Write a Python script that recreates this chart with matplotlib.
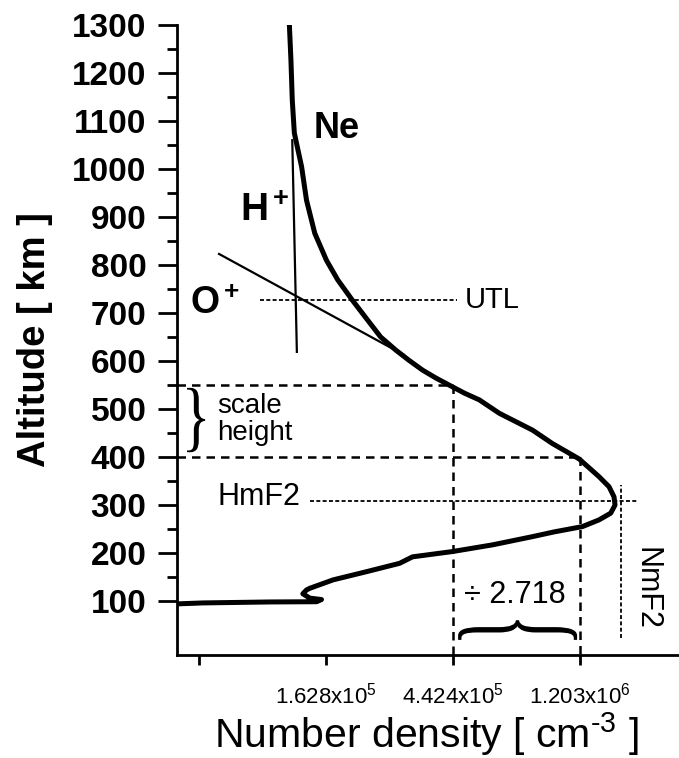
import numpy as np
import matplotlib
matplotlib.use("Agg")
import matplotlib.pyplot as plt
from matplotlib.textpath import TextPath
from matplotlib.patches import PathPatch
from matplotlib.font_manager import FontProperties
from matplotlib.transforms import Affine2D, blended_transform_factory
from matplotlib.ticker import FixedLocator, NullLocator

plt.rcParams['font.family'] = ['Liberation Sans', 'DejaVu Sans']
plt.rcParams['mathtext.fontset'] = 'custom'
plt.rcParams['mathtext.rm'] = 'Liberation Sans'
plt.rcParams['mathtext.bf'] = 'Liberation Sans:bold'
plt.rcParams['mathtext.it'] = 'Liberation Sans:italic'

# ---------------- data ----------------
# electron density profile Ne (altitude km, density cm^-3)
ne_alt = [1300, 1227, 1144, 1075, 1040, 1005, 935, 866, 810, 769, 727, 685,
          650, 623, 602, 581, 565, 550, 533, 519, 491, 456, 428, 396,
          359, 338, 317, 300, 283, 269, 255, 244, 234, 217, 203, 192, 178.5,
          161, 144, 126.5, 123, 115, 106, 103, 98.5, 98, 96, 94]
ne_density = [121900, 123400, 124700, 126750, 130400, 134200, 139500, 148900,
              163200, 178400, 200000, 225900, 250200, 281500, 311800, 348000,
              385400, 428500, 484100, 544200, 637300, 827300, 968000, 1194200,
              1397200, 1512000, 1572200, 1584800, 1531900, 1397200,
              1225700, 981600, 825700, 604400, 440200, 321600, 290400, 223500,
              172000, 143200, 139500, 135500, 143200, 157000, 151000, 104600,
              61760, 50260]

# H+ and O+ asymptotes
hplus_alt = [1060, 619]
hplus_density = [124700, 129300]
oplus_alt = [823, 613]
oplus_density = [70050, 300000]

# characteristic values
utl_alt = 727
utl_range = [96700, 455000]
hmf2_alt = 309
hmf2_range = [143200, 1886000]
nmf2 = 1656000
nmf2_alt_range = [23, 342]
scale_top_alt = 550
scale_bottom_alt = 400
scale_top_density = 4.424e5
scale_bottom_density = 1.203e6

x_ticks = [5.987e4, 1.628e5, 4.424e5, 1.203e6]
x_tick_labels = ['', r'1.628x10$^5$', r'4.424x10$^5$', r'1.203x10$^6$']
y_ticks = list(range(100, 1301, 100))
y_minor = list(range(150, 1300, 100))

# ---------------- figure ----------------
W, H = 679, 758
fig = plt.figure(figsize=(W / 100, H / 100), dpi=100)
ax = fig.add_axes([177 / W, 1 - 655 / H, 1 - 177 / W, 630 / H])
ax.set_xscale('log')
ax.set_xlim(50300, 2623000)
ax.set_ylim(-12.5, 1300)

for s in ['top', 'right']:
    ax.spines[s].set_visible(False)
for s in ['left', 'bottom']:
    ax.spines[s].set_linewidth(2.0)

ax.xaxis.set_major_locator(FixedLocator(x_ticks))
ax.xaxis.set_minor_locator(NullLocator())
ax.set_xticklabels(x_tick_labels, fontsize=16)
ax.yaxis.set_major_locator(FixedLocator(y_ticks))
ax.yaxis.set_minor_locator(FixedLocator(y_minor))
ax.set_yticklabels([str(v) for v in y_ticks], fontsize=24, fontweight='bold')
ax.tick_params(axis='y', which='major', length=14, width=2, pad=8)
ax.tick_params(axis='y', which='minor', length=7, width=2)
ax.tick_params(axis='x', which='major', length=7, width=2, pad=13)

ax.set_ylabel('Altitude [ km ]', fontsize=27.5, fontweight='bold', labelpad=14)
ax.set_xlabel(r'Number density [ cm$^{\text{-3}}$ ]', fontsize=29.5)
ax.xaxis.set_label_coords(0.497, -0.088)

# main profile
ax.plot(ne_density, ne_alt, color='black', lw=3.6,
        solid_capstyle='round', solid_joinstyle='round', zorder=5)
ax.plot(hplus_density, hplus_alt, color='black', lw=1.6)
ax.plot(oplus_density, oplus_alt, color='black', lw=1.6)

# scale height dashed construction
dash = (0, (3.4, 2.4))
xmin = ax.get_xlim()[0]
ymin = ax.get_ylim()[0]
ax.plot([xmin, scale_top_density], [scale_top_alt, scale_top_alt], color='black', lw=1.8, ls=dash)
ax.plot([scale_top_density, scale_top_density], [scale_top_alt, ymin], color='black', lw=1.8, ls=dash)
ax.plot([xmin, scale_bottom_density], [scale_bottom_alt, scale_bottom_alt], color='black', lw=1.8, ls=dash)
ax.plot([scale_bottom_density, scale_bottom_density], [scale_bottom_alt, ymin], color='black', lw=1.8, ls=dash)

# dotted markers
dot = (0, (2.2, 1.3))
ax.plot(utl_range, [utl_alt, utl_alt], color='black', lw=1.3, ls=dot)
ax.plot(hmf2_range, [hmf2_alt, hmf2_alt], color='black', lw=1.3, ls=dot)
ax.plot([nmf2, nmf2], nmf2_alt_range, color='black', lw=1.3, ls=dot)

# labels
ax.text(177000, 1085, 'Ne', fontsize=26, fontweight='bold', ha='center', va='center')
ax.text(100500, 912, r'$\mathbf{H^+}$', fontsize=28, ha='center', va='center')
ax.text(68000, 719, r'$\mathbf{O^+}$', fontsize=27, ha='center', va='center')
ax.text(484000, 727, 'UTL', fontsize=21, ha='left', va='center')
ax.text(68950, 316, 'HmF2', fontsize=22, ha='left', va='center')
ax.text(68950, 506, 'scale', fontsize=20, ha='left', va='center')
ax.text(68950, 451, 'height', fontsize=20, ha='left', va='center')
ax.text(722200, 112, '÷ 2.718', fontsize=22, ha='center', va='center')
ax.text(2037000, 127, 'NmF2', fontsize=22, ha='center', va='center', rotation=270)

# braces built from a glyph, stretched into place
def brace(x0, x1, y0, y1, rotate=False):
    tp = TextPath((0, 0), '}', size=1, prop=FontProperties(family='Liberation Serif'))
    if rotate:
        tp = tp.transformed(Affine2D().rotate_deg(90))
    ext = tp.get_extents()
    tr = (Affine2D().translate(-ext.x0, -ext.y0)
          .scale((x1 - x0) / ext.width, (y1 - y0) / ext.height)
          .translate(x0, y0))
    trans = tr + blended_transform_factory(ax.transAxes, ax.transData)
    ax.add_patch(PathPatch(tp, transform=trans, facecolor='black',
                           edgecolor='none', clip_on=False))

brace(0.020, 0.056, 410, 544)
brace(0.560, 0.797, 19, 60, rotate=True)

fig.savefig('out.png', dpi=100)
